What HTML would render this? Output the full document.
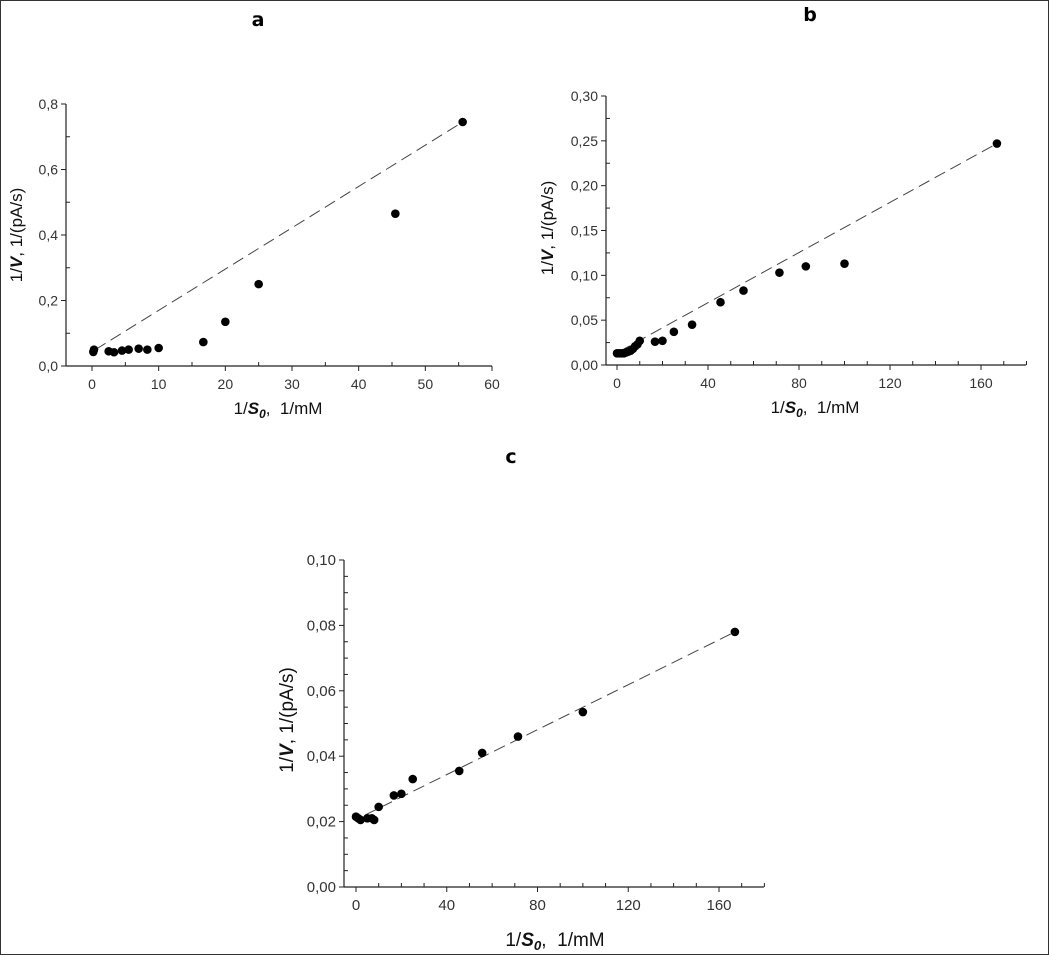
<!DOCTYPE html>
<html><head><meta charset="utf-8"><style>
html,body{margin:0;padding:0;background:#fff}
svg{display:block;font-family:"Liberation Sans",Arial,sans-serif}
</style></head><body>
<svg id="s" width="1049" height="955" viewBox="0 0 1049 955" xmlns="http://www.w3.org/2000/svg">
<rect x="0.5" y="0.5" width="1048" height="954" fill="#fff" stroke="#333" stroke-width="1"/>
<text x="258" y="26" font-size="19" font-weight="bold" text-anchor="middle" font-family="DejaVu Sans, sans-serif">a</text>
<text x="810" y="21" font-size="19" font-weight="bold" text-anchor="middle" font-family="DejaVu Sans, sans-serif">b</text>
<text x="511" y="463" font-size="19" font-weight="bold" text-anchor="middle" font-family="DejaVu Sans, sans-serif">c</text>
<g id="g"></g>
</svg>
<script>
var g=document.getElementById('g'),out='';
function plot(o){
 var X=function(v){return o.x0+(v)*o.px;},Y=function(v){return o.y0-(v)/o.ymax*(o.y0-o.ytop);};
 out+='<line x1="'+o.ax+'" y1="'+o.ytop+'" x2="'+o.ax+'" y2="'+o.y0+'" stroke="#222" stroke-width="1.2"/>';
 out+='<line x1="'+o.ax+'" y1="'+o.y0+'" x2="'+o.xend+'" y2="'+o.y0+'" stroke="#222" stroke-width="1.2"/>';
 for(var v=0;v<=o.ymax+1e-9;v+=o.yminor){var y=Y(v);var maj=Math.abs(Math.round(v/o.ymajor)*o.ymajor-v)<1e-9;
  out+='<line x1="'+(o.ax-(maj?5:0))+'" y1="'+y+'" x2="'+(o.ax+(maj?0:4))+'" y2="'+y+'" stroke="#222"/>';
  if(maj)out+='<text x="'+(o.ax-8)+'" y="'+(y+5)+'" font-size="'+o.fs+'" text-anchor="end" fill="#333">'+v.toFixed(o.dec).replace('.',',')+'</text>';}
 for(var v=0;X(v)<=o.xend+0.5;v+=o.xminor){var x=X(v);var maj=Math.abs(Math.round(v/o.xmajor)*o.xmajor-v)<1e-9;
  out+='<line x1="'+x+'" y1="'+o.y0+'" x2="'+x+'" y2="'+(o.y0+(maj?5:-4))+'" stroke="#222"/>';
  if(maj)out+='<text x="'+x+'" y="'+(o.y0+23)+'" font-size="'+o.fs+'" text-anchor="middle" fill="#333">'+v+'</text>';}
 out+='<line x1="'+X(o.l[0])+'" y1="'+Y(o.l[1])+'" x2="'+X(o.l[2])+'" y2="'+Y(o.l[3])+'" stroke="#444" stroke-width="1" stroke-dasharray="12,6"/>';
 o.p.forEach(function(p){out+='<circle cx="'+X(p[0])+'" cy="'+Y(p[1])+'" r="4.3" fill="#000"/>';});
 out+='<text transform="translate('+o.ylx+','+o.yly+') rotate(-90)" font-size="'+o.lfs+'" text-anchor="middle" fill="#111">1/<tspan font-weight="bold" font-style="italic">V</tspan>, 1/(pA/s)</text>';
 out+='<text x="'+o.xlx+'" y="'+o.xly+'" font-size="'+o.lfs+'" text-anchor="middle" fill="#111">1/<tspan font-weight="bold" font-style="italic">S</tspan><tspan font-weight="bold" font-style="italic" font-size="'+(o.lfs*0.7)+'" dy="4">0</tspan><tspan dy="-4">,&#160; 1/mM</tspan></text>';
}
plot({ax:66,xend:492,x0:92,px:400/60,y0:366,ytop:104,ymax:0.8,ymajor:0.2,yminor:0.1,dec:1,xmajor:10,xminor:5,fs:14,lfs:17,
 ylx:22,yly:235,xlx:278,xly:414,l:[0.5,0.05,55.6,0.745],
 p:[[0.2,0.043],[0.3,0.05],[2.5,0.045],[3.3,0.042],[4.5,0.047],[5.5,0.05],[7,0.053],[8.3,0.05],[10,0.055],[16.7,0.073],[20,0.135],[25,0.25],[45.5,0.465],[55.6,0.745]]});
plot({ax:606,xend:1026,x0:617,px:364/160,y0:365,ytop:96,ymax:0.30,ymajor:0.05,yminor:0.025,dec:2,xmajor:40,xminor:10,fs:14,lfs:17,
 ylx:553,yly:228,xlx:815,xly:413,l:[1,0.015,167,0.247],
 p:[[0,0.013],[1,0.013],[2,0.013],[3,0.013],[4,0.014],[5,0.015],[6,0.016],[7,0.018],[8,0.021],[9,0.023],[10,0.027],[16.7,0.026],[20,0.027],[25,0.037],[33,0.045],[45.5,0.07],[55.6,0.083],[71.4,0.103],[83,0.11],[100,0.113],[167,0.247]]});
plot({ax:344,xend:764,x0:356,px:363/160,y0:887,ytop:560,ymax:0.10,ymajor:0.02,yminor:0.005,dec:2,xmajor:40,xminor:10,fs:15,lfs:19,
 ylx:293,yly:720,xlx:555,xly:946,l:[4,0.022,167,0.078],
 p:[[0,0.0215],[1,0.021],[2,0.0205],[5,0.021],[7,0.021],[8,0.0205],[10,0.0245],[16.7,0.028],[20,0.0285],[25,0.033],[45.5,0.0355],[55.6,0.041],[71.4,0.046],[100,0.0535],[167,0.078]]});
g.innerHTML=out;
</script>
</body></html>
